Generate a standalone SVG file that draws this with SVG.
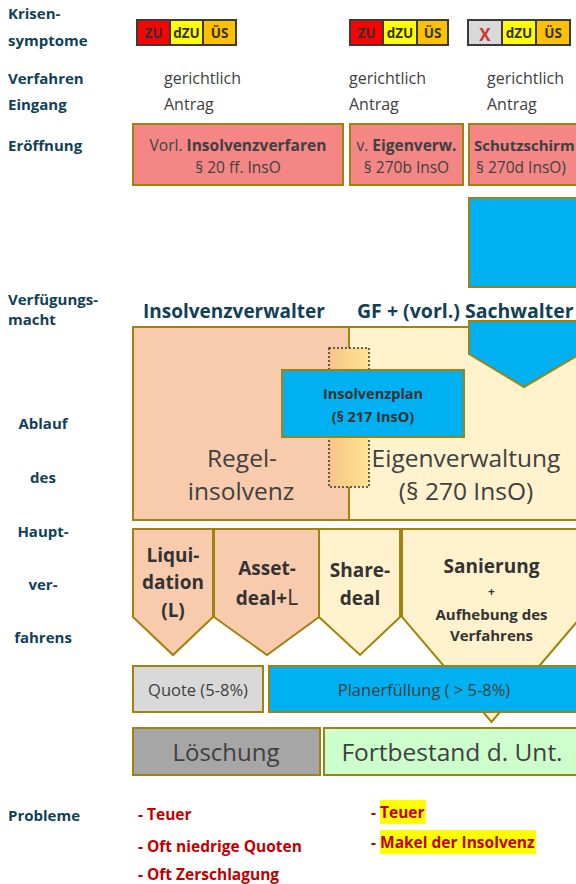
<svg xmlns="http://www.w3.org/2000/svg" width="576" height="884" viewBox="0 0 576 884">
<defs>
<linearGradient id="barGrad" x1="0" y1="0" x2="1" y2="0">
<stop offset="0" stop-color="#f7c48a"/>
<stop offset="1" stop-color="#fee592"/>
</linearGradient>
<style>
text{font-family:"Open Sans",Lato,"DejaVu Sans",sans-serif}
.lbl{font-size:15px;font-weight:bold;fill:#123f58}
.hdr{font-size:19px;font-weight:bold;fill:#123f58}
.norm{font-size:16px;fill:#404040}
.c{text-anchor:middle}
.b{font-weight:bold}
.cell{stroke:#3a3a3a;stroke-width:2}
.ct{font-size:13.5px;font-weight:bold;fill:#333;text-anchor:middle}
.box{stroke:#a0820f;stroke-width:2}
.open{fill:#f48686}
.blue{fill:#00b0f0}
.salmon{fill:#f8cbad}
.cream{fill:#fff2cc}
.big{font-size:24.5px;fill:#404040;text-anchor:middle}
.pt{font-size:19px;font-weight:bold;fill:#333;text-anchor:middle}
.red{font-size:15.5px;font-weight:bold;fill:#c00000}
.hl{fill:#ffff00}
</style>
</defs>

<g id="labels">
<text class="lbl" x="8" y="19">Krisen-</text>
<text class="lbl" x="8" y="46">symptome</text>
<text class="lbl" x="8" y="84">Verfahren</text>
<text class="lbl" x="8" y="110">Eingang</text>
<text class="lbl" x="8" y="151">Eröffnung</text>
<text class="lbl" x="8" y="305">Verfügungs-</text>
<text class="lbl" x="8" y="325">macht</text>
<text class="lbl c" x="43" y="429">Ablauf</text>
<text class="lbl c" x="43" y="483">des</text>
<text class="lbl c" x="43" y="537">Haupt-</text>
<text class="lbl c" x="43" y="590">ver-</text>
<text class="lbl c" x="43" y="643">fahrens</text>
<text class="lbl" x="8" y="821">Probleme</text>
</g>

<g id="symptoms1">
<rect class="cell" x="137" y="20" width="33" height="25" fill="#ff0000"/>
<rect class="cell" x="170" y="20" width="33" height="25" fill="#ffff00"/>
<rect class="cell" x="203" y="20" width="33" height="25" fill="#ffc000"/>
<text class="ct" x="153.5" y="38">ZU</text>
<text class="ct" x="186.5" y="38">dZU</text>
<text class="ct" x="219.5" y="38">ÜS</text>
</g>
<g id="symptoms2">
<rect class="cell" x="350" y="20" width="33" height="25" fill="#ff0000"/>
<rect class="cell" x="383" y="20" width="34" height="25" fill="#ffff00"/>
<rect class="cell" x="417" y="20" width="31" height="25" fill="#ffc000"/>
<text class="ct" x="366.5" y="38">ZU</text>
<text class="ct" x="400" y="38">dZU</text>
<text class="ct" x="432.5" y="38">ÜS</text>
</g>
<g id="symptoms3">
<rect class="cell" x="468" y="20" width="34" height="25" fill="#d9d9d9"/>
<rect class="cell" x="502" y="20" width="34" height="25" fill="#ffff00"/>
<rect class="cell" x="536" y="20" width="34" height="25" fill="#ffc000"/>
<text class="ct" x="485" y="41" style="fill:#d03535;font-size:17px">X</text>
<text class="ct" x="519" y="38">dZU</text>
<text class="ct" x="553" y="38">ÜS</text>
</g>

<g id="procedure">
<text class="norm" x="164" y="84">gerichtlich</text>
<text class="norm" x="164" y="110">Antrag</text>
<text class="norm" x="349" y="84">gerichtlich</text>
<text class="norm" x="349" y="110">Antrag</text>
<text class="norm" x="487" y="84">gerichtlich</text>
<text class="norm" x="487" y="110">Antrag</text>
</g>

<g id="open1">
<rect class="box open" x="133" y="124" width="210" height="61"/>
<text class="norm c" x="238" y="151" style="font-size:15.5px">Vorl. <tspan class="b">Insolvenzverfaren</tspan></text>
<text class="norm c" x="238" y="173" style="font-size:15.5px">§ 20 ff. InsO</text>
</g>
<g id="open2">
<rect class="box open" x="350" y="124" width="113" height="61"/>
<text class="norm c" x="406.5" y="151" style="font-size:15.5px">v. <tspan class="b">Eigenverw.</tspan></text>
<text class="norm c" x="406.5" y="173" style="font-size:15.5px">§ 270b InsO</text>
</g>
<g id="open3">
<rect class="box open" x="469" y="124" width="112" height="61"/>
<text class="norm" x="474" y="151" style="font-size:15px"><tspan class="b">Schutzschirm</tspan></text>
<text class="norm" x="476" y="173" style="font-size:15.5px">§ 270d InsO)</text>
</g>
<g id="shield">
<rect class="box blue" x="469" y="198" width="112" height="89"/>
</g>

<g id="headers">
<text class="hdr" x="143" y="318">Insolvenzverwalter</text>
<text class="hdr" x="357" y="318" style="font-size:19.5px">GF + (vorl.) Sachwalter</text>
</g>

<g id="regel">
<rect class="box salmon" x="133" y="327" width="216" height="193"/>
<text class="big" x="242" y="467">Regel-</text>
<text class="big" x="241" y="500">insolvenz</text>
</g>
<g id="eigen">
<rect class="box cream" x="349" y="327" width="232" height="193"/>
<text class="big" x="466" y="467">Eigenverwaltung</text>
<text class="big" x="466" y="500">(§ 270 InsO)</text>
</g>
<g id="shieldArrow">
<polygon class="box blue" points="469,321 580,321 580,354 524,387 469,354"/>
</g>
<g id="bridge">
<rect x="329" y="348" width="40" height="139" fill="url(#barGrad)" stroke="#333" stroke-width="1.5" stroke-dasharray="2,2"/>
</g>
<g id="plan">
<rect class="box blue" x="282" y="370" width="182" height="67"/>
<text class="c b" x="373" y="399" style="font-size:14.5px;fill:#333">Insolvenzplan</text>
<text class="c b" x="373" y="422" style="font-size:14.5px;fill:#333">(§ 217 InsO)</text>
</g>

<g id="liquidation">
<polygon class="box salmon" points="133,529 213,529 213,617 173,655 133,617"/>
<text class="pt" x="173" y="562">Liqui-</text>
<text class="pt" x="173" y="589">dation</text>
<text class="pt" x="173" y="617">(L)</text>
</g>
<g id="assetdeal">
<polygon class="box salmon" points="214,529 319,529 319,617 267,655 214,617"/>
<text class="pt" x="267" y="575">Asset-</text>
<text class="pt" x="267" y="605">deal+<tspan style="font-weight:normal;font-size:21px">L</tspan></text>
</g>
<g id="sharedeal">
<polygon class="box cream" points="319,529 400,529 400,617 360,655 319,617"/>
<text class="pt" x="360" y="577">Share-</text>
<text class="pt" x="360" y="605">deal</text>
</g>
<g id="sanierung">
<polygon class="box cream" points="402,529 581,529 581,617 491.5,722 402,617"/>
<text class="pt" x="491.5" y="573">Sanierung</text>
<text class="pt" x="491.5" y="596" style="font-size:12px">+</text>
<text class="pt" x="491.5" y="620" style="font-size:15px">Aufhebung des</text>
<text class="pt" x="491.5" y="641" style="font-size:15px">Verfahrens</text>
</g>

<g id="quote">
<rect class="box" x="133" y="666" width="130" height="46" fill="#d9d9d9"/>
<text class="norm c" x="198" y="696" style="font-size:16.5px">Quote (5-8%)</text>
</g>
<g id="planfulfil">
<rect class="box blue" x="269" y="666" width="312" height="46"/>
<text class="norm c" x="424" y="696" style="font-size:16.5px">Planerfüllung ( &gt; 5-8%)</text>
</g>

<g id="loeschung">
<rect class="box" x="133" y="728" width="187" height="47" fill="#a6a6a6"/>
<text class="big" x="226" y="761" style="font-size:24px">Löschung</text>
</g>
<g id="fortbestand">
<rect class="box" x="324" y="728" width="257" height="47" fill="#ccffcc"/>
<text class="big" x="452" y="761">Fortbestand d. Unt.</text>
</g>

<g id="problems-left">
<text class="red" x="138" y="820">- Teuer</text>
<text class="red" x="138" y="852">- Oft niedrige Quoten</text>
<text class="red" x="138" y="880">- Oft Zerschlagung</text>
</g>
<g id="problems-right">
<rect class="hl" x="380" y="800" width="46" height="24"/>
<rect class="hl" x="380" y="830" width="156" height="24"/>
<text class="red" x="371" y="818">- Teuer</text>
<text class="red" x="371" y="848">- Makel der Insolvenz</text>
</g>

<g id="connectors"></g>
</svg>
